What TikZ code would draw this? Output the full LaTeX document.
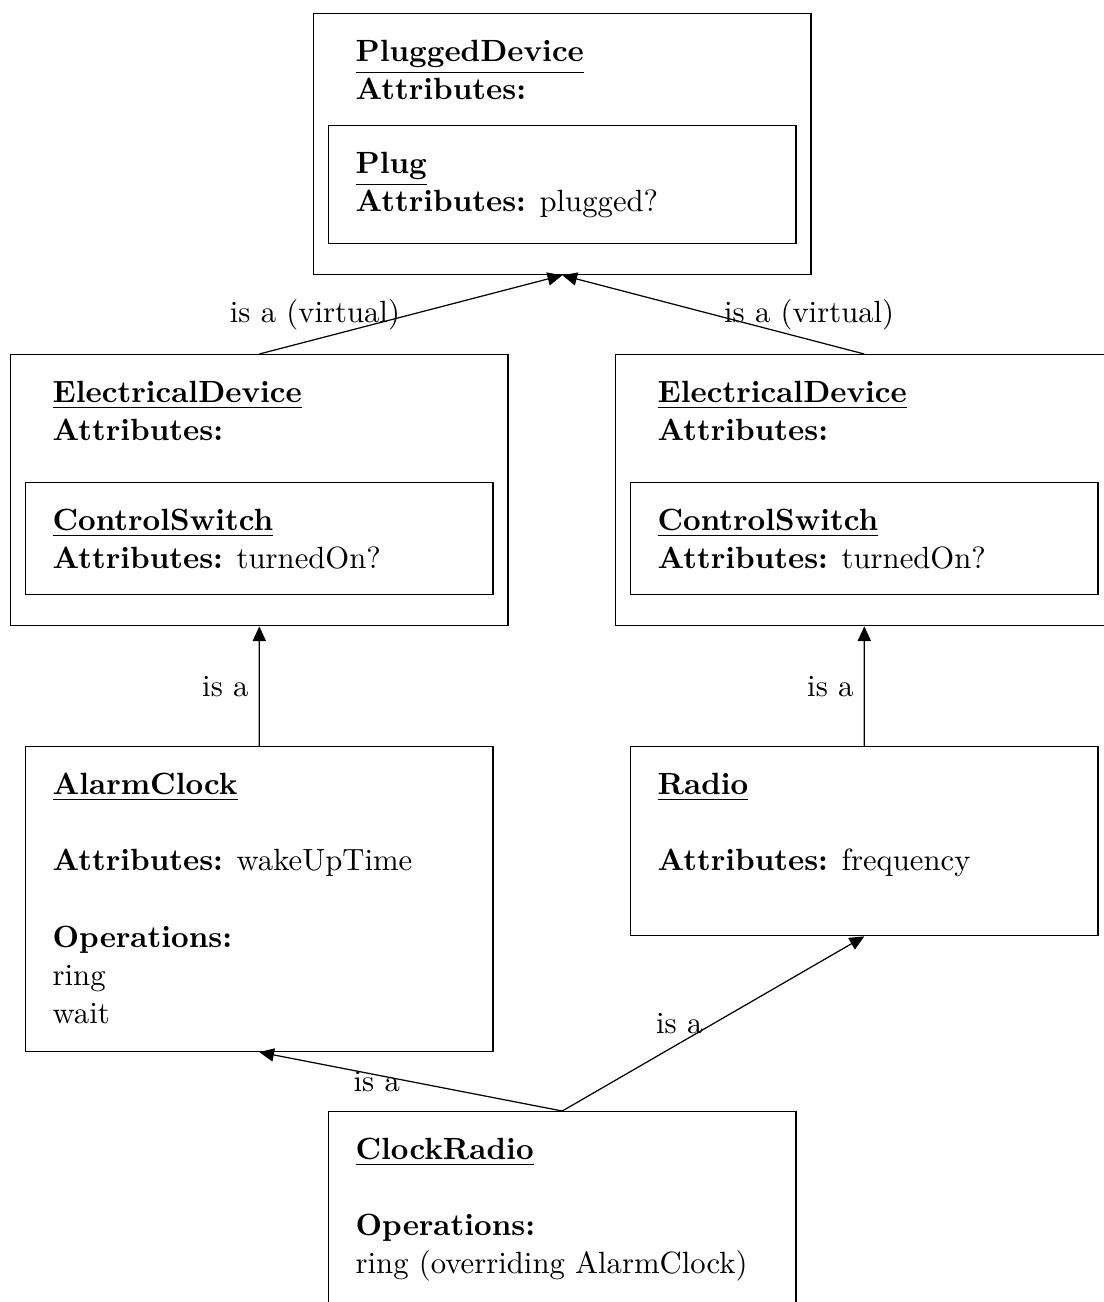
\documentclass[tikz,border=0pt]{standalone}
\usetikzlibrary{arrows.meta}

\tikzset{
  classbox/.style={draw, anchor=north west, inner sep=0pt, minimum width=152.2pt},
  outerbox/.style={classbox, minimum width=162pt},
  classtext/.style={anchor=north west, align=left, inner xsep=8.8pt, inner ysep=8.7pt,
    font=\fontsize{10}{12.4}\selectfont},
  outertext/.style={classtext, inner xsep=13.7pt},
  isa/.style={-{Triangle[length=4.8pt,width=4.3pt]}},
}

\begin{document}
\begin{tikzpicture}[x=0.3257pt, y=-0.3257pt]
  \useasboundingbox (0,0) rectangle (1104,1302);
  \clip (0,0) rectangle (1104,1302);

  % top: PluggedDevice holding a Plug
  \node[outerbox, minimum height=85pt] (pd) at (313,13) {};
  \node[outertext] (pdtext) at (pd.north west)
    {\underline{\textbf{PluggedDevice}}\\ \textbf{Attributes:}};
  \node[classbox, minimum height=38.4pt] (plug) at (328,125) {};
  \node[classtext] (plugtext) at (plug.north west)
    {\underline{\textbf{Plug}}\\ \textbf{Attributes:} plugged?};

  % middle: the two ElectricalDevice copies
  \node[outerbox, minimum height=88.3pt] (edl) at (10,354) {};
  \node[outertext] (edltext) at (edl.north west)
    {\underline{\textbf{ElectricalDevice}}\\ \textbf{Attributes:}};
  \node[classbox, minimum height=36.5pt] (csl) at (25,482) {};
  \node[classtext] (csltext) at (csl.north west)
    {\underline{\textbf{ControlSwitch}}\\ \textbf{Attributes:} turnedOn?};

  \node[outerbox, minimum height=88.3pt] (edr) at (615,354) {};
  \node[outertext] (edrtext) at (edr.north west)
    {\underline{\textbf{ElectricalDevice}}\\ \textbf{Attributes:}};
  \node[classbox, minimum height=36.5pt] (csr) at (630,482) {};
  \node[classtext] (csrtext) at (csr.north west)
    {\underline{\textbf{ControlSwitch}}\\ \textbf{Attributes:} turnedOn?};

  % lower: AlarmClock, Radio and ClockRadio
  \node[classbox, minimum height=99.3pt] (ac) at (25,746) {};
  \node[classtext] (actext) at (ac.north west)
    {\underline{\textbf{AlarmClock}}\\[12.4pt] \textbf{Attributes:} wakeUpTime\\[12.4pt]
     \textbf{Operations:}\\ ring\\ wait};
  \node[classbox, minimum height=61.6pt] (radio) at (630,746) {};
  \node[classtext] (radiotext) at (radio.north west)
    {\underline{\textbf{Radio}}\\[12.4pt] \textbf{Attributes:} frequency};
  \node[classbox, minimum height=78pt] (cr) at (328,1111) {};
  \node[classtext] (crtext) at (cr.north west)
    {\underline{\textbf{ClockRadio}}\\[12.4pt] \textbf{Operations:}\\ ring (overriding AlarmClock)};

  % inheritance
  \draw[isa] (edl.north) -- node[left] {is a (virtual)} (pd.south);
  \draw[isa] (edr.north) -- node[right] {is a (virtual)} (pd.south);
  \draw[isa] (ac.north) -- node[left] {is a} (edl.south);
  \draw[isa] (radio.north) -- node[left] {is a} (edr.south);
  \draw[isa] (cr.north) -- node[left] {is a} (ac.south);
  \draw[isa] (cr.north) -- node[left] {is a} (radio.south);
\end{tikzpicture}
\end{document}
